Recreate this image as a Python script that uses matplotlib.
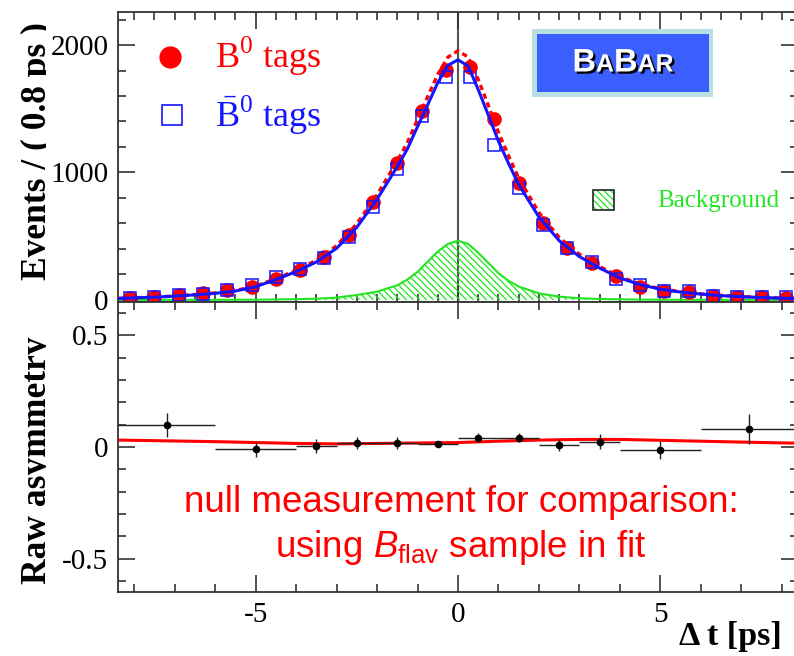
import matplotlib
matplotlib.use('Agg')
import matplotlib.pyplot as plt
import matplotlib.patheffects as pe
import numpy as np
from matplotlib.patches import Rectangle
from matplotlib.transforms import Bbox
from matplotlib.ticker import MultipleLocator, FormatStrFormatter
from matplotlib.offsetbox import TextArea, HPacker, AnnotationBbox

plt.rcParams['font.family'] = 'serif'
plt.rcParams['font.serif'] = ['Liberation Serif', 'DejaVu Serif']
plt.rcParams['mathtext.fontset'] = 'custom'
plt.rcParams['mathtext.rm'] = 'Liberation Serif'
plt.rcParams['mathtext.it'] = 'Liberation Sans:italic'
plt.rcParams['mathtext.sf'] = 'Liberation Sans'
plt.rcParams['axes.unicode_minus'] = False
plt.rcParams['hatch.linewidth'] = 0.9

# ---- top panel: Delta t distributions (bins of 0.6 ps as drawn) ----
dt_bins = [-8.1, -7.5, -6.9, -6.3, -5.7, -5.1, -4.5, -3.9, -3.3, -2.7, -2.1, -1.5, -0.9, -0.3,
           0.3, 0.9, 1.5, 2.1, 2.7, 3.3, 3.9, 4.5, 5.1, 5.7, 6.3, 6.9, 7.5, 8.1]
b0_tags = [13, 26, 39, 52, 78, 100, 162, 235, 335, 507, 766, 1077, 1480, 1805,
           1830, 1420, 920, 601, 405, 288, 188, 100, 71, 60, 34, 26, 21, 13]
b0bar_tags = [13, 21, 39, 44, 78, 118, 183, 241, 332, 497, 727, 1025, 1443, 1746,
              1746, 1216, 876, 588, 405, 296, 162, 118, 71, 70, 31, 26, 26, 21]

# fit curves
fit_t = [-8.4, -7.5, -7.0, -6.5, -6.0, -5.5, -5.0, -4.5, -4.0, -3.5, -3.0, -2.5, -2.0, -1.5,
         -1.25, -1.0, -0.75, -0.5, -0.25, 0.0, 0.25, 0.5, 0.75, 1.0, 1.25, 1.5, 2.0, 2.5,
         3.0, 3.5, 4.0, 4.5, 5.0, 5.5, 6.0, 6.5, 7.0, 7.5, 8.0, 8.4]
fit_b0bar = [12, 22, 30, 40, 52, 70, 104, 160, 222, 298, 405, 570, 790, 1046,
             1185, 1360, 1530, 1705, 1840, 1884, 1835, 1650, 1450, 1245, 1070, 905, 650, 465,
             340, 250, 172, 120, 84, 62, 46, 34, 26, 19, 14, 11]
fit_b0 = [13, 23, 31, 42, 55, 74, 109, 167, 232, 312, 425, 598, 825, 1090,
          1235, 1415, 1595, 1770, 1905, 1955, 1905, 1730, 1525, 1315, 1130, 955, 685, 490,
          358, 262, 181, 126, 88, 65, 48, 36, 27, 20, 15, 12]
fit_bkg = [0.5, 0.7, 0.8, 1, 1, 1.5, 2, 4, 6, 10, 18, 39, 65, 115,
           160, 220, 300, 380, 440, 465, 440, 370, 290, 210, 150, 105, 52, 26,
           13, 8, 5, 3, 2, 1.5, 1, 1, 0.8, 0.7, 0.5, 0.5]

# ---- bottom panel: raw asymmetry ----
asym_edges = [-8.4, -6, -4, -3, -2, -1, 0, 1, 2, 3, 4, 6, 8.4]
asym_vals = [0.098, -0.010, 0.006, 0.017, 0.019, 0.013, 0.042, 0.042, 0.009, 0.024, -0.013, 0.080]
asym_errs = [0.054, 0.033, 0.032, 0.027, 0.026, 0.011, 0.021, 0.021, 0.028, 0.034, 0.040, 0.066]
asym_fit_t = [-8.4, -6, -4, -3, -2, -1, 0, 1, 2, 3, 4, 5, 6, 7, 8.4]
asym_fit = [0.031, 0.024, 0.016, 0.014, 0.016, 0.018, 0.020, 0.026, 0.031, 0.034, 0.034,
            0.030, 0.026, 0.022, 0.017]

RED = '#ff0000'
BLUE = '#1414ff'
GREEN = '#22e622'
AXC = '#333333'

W, H = 794, 656
fig = plt.figure(figsize=(W / 100, H / 100), dpi=100)


def fx(p):
    return p / W


def fy(p):
    return 1 - p / H


L, R = 118, 798
ax1 = fig.add_axes([fx(L), fy(302), (R - L) / W, (302 - 12) / H])
ax2 = fig.add_axes([fx(L), fy(592), (R - L) / W, (592 - 302) / H])

# top panel
ax1.axvline(0, color='#555555', lw=1.5, zorder=1)
ax1.fill_between(fit_t, 0, fit_bkg, facecolor='none', edgecolor=GREEN,
                 hatch='\\\\\\\\\\', linewidth=0, zorder=2)
ax1.plot(fit_t, fit_bkg, color=GREEN, lw=1.5, zorder=2)
ax1.plot(dt_bins, b0_tags, 'o', color=RED, ms=9.5, zorder=3)
ax1.plot(dt_bins, b0bar_tags, 's', mfc='none', mec=BLUE, mew=1.1, ms=8.5, zorder=4)
ax1.plot(fit_t, fit_b0, color=RED, lw=2.4, ls=(0, (1.6, 1.2)), zorder=5)
ax1.plot(fit_t, fit_b0bar, color=BLUE, lw=2.2, zorder=6)

ax1.set_xlim(-8.4, 8.4)
ax1.set_ylim(-16, 2259)
ax1.xaxis.set_major_locator(MultipleLocator(5))
ax1.xaxis.set_minor_locator(MultipleLocator(0.5))
ax1.yaxis.set_major_locator(MultipleLocator(1000))
ax1.yaxis.set_minor_locator(MultipleLocator(200))
ax1.tick_params(labelbottom=False)

# legend, drawn by hand
ax1.plot([0.0765], [0.845], 'o', color=RED, ms=15, transform=ax1.transAxes)
ax1.plot([0.0794], [0.645], 's', mfc='none', mec=BLUE, mew=1.2, ms=14, transform=ax1.transAxes)
ax1.text(0.1426, 0.807, r'$\mathrm{B}^{0}$ tags', color=RED, fontsize=26,
         transform=ax1.transAxes, va='baseline')
ax1.text(0.1426, 0.603, r'$\bar{\mathrm{B}}^{0}$ tags', color=BLUE, fontsize=26,
         transform=ax1.transAxes, va='baseline')
ax1.add_patch(Rectangle((0.6985, 0.3172), 0.0309, 0.069, transform=ax1.transAxes,
                        facecolor='none', edgecolor=GREEN, hatch='\\\\\\\\\\', lw=0))
ax1.add_patch(Rectangle((0.6985, 0.3172), 0.0309, 0.069, transform=ax1.transAxes,
                        facecolor='none', edgecolor='#222222', lw=1.2))
ax1.text(0.7926, 0.3466, 'Background', color=GREEN, fontsize=18,
         transform=ax1.transAxes, va='center')

# bottom panel
edges = np.array(asym_edges)
centers = (edges[:-1] + edges[1:]) / 2
halfw = (edges[1:] - edges[:-1]) / 2
ax2.errorbar(centers, asym_vals, xerr=halfw, yerr=asym_errs, fmt='o', color='black',
             ecolor='#222222', ms=4.5, elinewidth=1.0, capsize=0, zorder=3)
ax2.plot(asym_fit_t, asym_fit, color=RED, lw=2.2, zorder=2)
ax2.set_xlim(-8.4, 8.4)
ax2.set_ylim(-0.65, 0.65)
ax2.xaxis.set_major_locator(MultipleLocator(5))
ax2.xaxis.set_minor_locator(MultipleLocator(1))
ax2.yaxis.set_major_locator(MultipleLocator(0.5))
ax2.yaxis.set_minor_locator(MultipleLocator(0.1))
ax2.xaxis.set_major_formatter(FormatStrFormatter('%g'))
ax2.yaxis.set_major_formatter(FormatStrFormatter('%g'))

for ax in (ax1, ax2):
    for s in ax.spines.values():
        s.set_color(AXC)
        s.set_linewidth(1.3)
    ax.tick_params(which='both', direction='in', top=True, right=True,
                   color=AXC, width=1.2, labelsize=21)
    ax.tick_params(which='major', length=12, pad=7)
    ax.tick_params(which='minor', length=6)

# axis titles (clipped like the original)
clip = Bbox.from_extents(0, 0, 46, H)
t1 = fig.text(fx(46), fy(151), 'Events / ( 0.8 ps )', rotation=90, rotation_mode='anchor',
              ha='center', va='baseline', fontsize=25.5, fontweight='bold')
t2 = fig.text(fx(46), fy(460), 'Raw asymmetry', rotation=90, rotation_mode='anchor',
              ha='center', va='baseline', fontsize=25.5, fontweight='bold')
for t in (t1, t2):
    t.set_clip_box(clip)
    t.set_clip_on(True)
fig.text(fx(782), fy(645), 'Δ t [ps]', ha='right', va='baseline', fontsize=24.5,
         fontweight='bold')

# comment text
fig.text(fx(461), fy(512), 'null measurement for comparison:', ha='center', va='baseline',
         color=RED, fontsize=26.5, family='Liberation Sans')
fig.text(fx(461), fy(557), r'using $B_{\mathsf{flav}}$ sample in fit', ha='center',
         va='baseline', color=RED, fontsize=26.5, family='Liberation Sans')

# BaBar logo
fig.add_artist(Rectangle((fx(531.7), fy(97.3)), fx(713.3 - 531.7), (97.3 - 29) / H,
                         transform=fig.transFigure, facecolor='#b8e0e4', edgecolor='none'))
fig.add_artist(Rectangle((fx(537.3), fy(92)), fx(708.7 - 537.3), (92 - 34) / H,
                         transform=fig.transFigure, facecolor='#3a5ffe', edgecolor='none'))
shadow = [pe.withSimplePatchShadow(offset=(1.6, -1.6), shadow_rgbFace='black', alpha=1.0)]
pieces = [('B', 23.5), ('A', 18), ('B', 23.5), ('AR', 18)]
areas = [TextArea(s, textprops=dict(color='white', fontsize=sz, fontweight='bold',
                                    family='Liberation Sans', path_effects=shadow))
         for s, sz in pieces]
logo = HPacker(children=areas, align='baseline', pad=0, sep=0)
fig.add_artist(AnnotationBbox(logo, (fx(623), fy(63)), xycoords='figure fraction',
                              frameon=False, box_alignment=(0.5, 0.5)))

fig.savefig('out.png', dpi=100, facecolor='white')
